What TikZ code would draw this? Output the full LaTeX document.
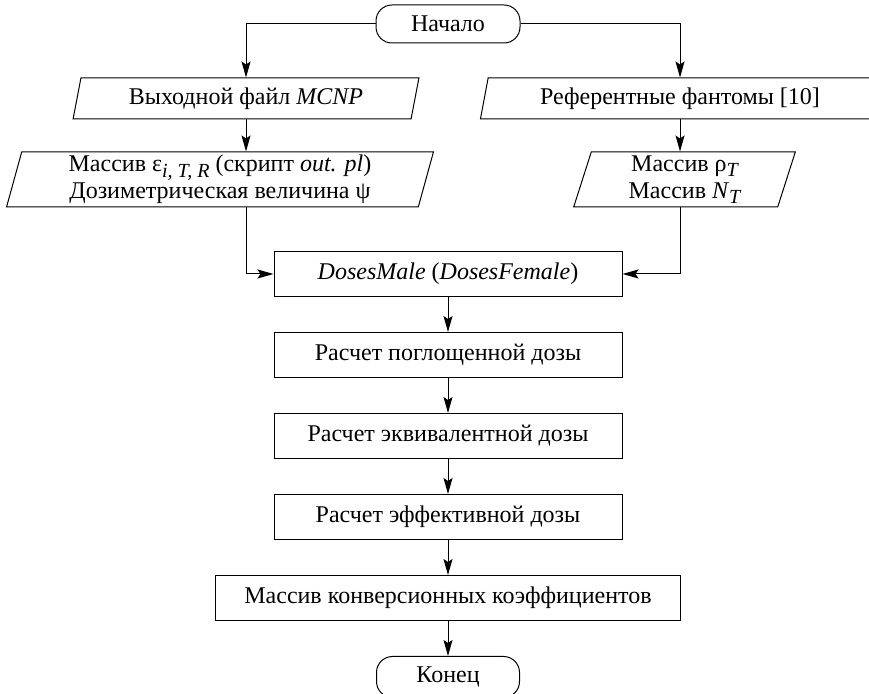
\documentclass[tikz,border=0pt,12pt]{standalone}
\usepackage{fontspec}
\setmainfont{Liberation Serif}
\usetikzlibrary{arrows.meta,positioning,shapes.geometric}
\newcommand{\lowidx}[1]{\raisebox{-0.5ex}{\footnotesize\itshape #1}}

\begin{document}
\begin{tikzpicture}[x=1pt, y=1pt,
  term/.style={draw, line width=0.5pt, rounded corners=8pt, minimum width=72pt, minimum height=19pt},
  proc/.style={draw, line width=0.5pt, minimum width=174pt, minimum height=22.5pt},
  io/.style={draw, line width=0.5pt, trapezium, trapezium left angle=77, trapezium right angle=103,
    trapezium stretches=true, minimum height=20.5pt, inner ysep=1pt, align=center,
    font=\fontsize{12}{13.5}\selectfont},
  arr/.style={-{Stealth[length=8pt, width=4.5pt, inset=1.5pt]}, line width=0.5pt}
]
  \useasboundingbox (0,0) rectangle (434.5,-347);

  \node[term] (start) at (224,-12) {Начало};
  \node[io, minimum width=173pt] (mcnp) at (123,-49.25) {Выходной файл \textit{MCNP}};
  \node[io, minimum width=200pt] (phant) at (340,-49.25) {Референтные фантомы [10]};
  \node[io, minimum width=214pt, minimum height=27.5pt] (eps) at (110,-89.75)
    {Массив ε\lowidx{i, T, R} (скрипт \textit{out. pl})\\Дозиметрическая величина ψ};
  \node[io, minimum width=111.5pt, minimum height=27.5pt] (rho) at (342.25,-89.75)
    {Массив ρ\lowidx{T}\\Массив \textit{N}\lowidx{T}};

  \node[proc] (doses) at (224,-137) {\textit{DosesMale} (\textit{DosesFemale})};
  \node[proc, below=17.5pt of doses] (absorb) {Расчет поглощенной дозы};
  \node[proc, below=17.5pt of absorb] (equiv) {Расчет эквивалентной дозы};
  \node[proc, below=17.5pt of equiv] (effect) {Расчет эффективной дозы};
  \node[proc, minimum width=232.5pt, below=17.5pt of effect] (coef) {Массив конверсионных коэффициентов};
  \node[term, minimum width=71.5pt, minimum height=20.5pt, below=17.5pt of coef] (stop) {Конец};

  \draw[arr] (start.west) -| (mcnp.north);
  \draw[arr] (start.east) -| (phant.north);
  \draw[arr] (mcnp.south) -- (mcnp.south |- eps.north);
  \draw[arr] (phant.south) -- (phant.south |- rho.north);
  \draw[arr] (eps.south -| mcnp.south) |- (doses.west);
  \draw[arr] (rho.south -| phant.south) |- (doses.east);
  \draw[arr] (doses) -- (absorb);
  \draw[arr] (absorb) -- (equiv);
  \draw[arr] (equiv) -- (effect);
  \draw[arr] (effect) -- (coef);
  \draw[arr] (coef) -- (stop);
\end{tikzpicture}
\end{document}
